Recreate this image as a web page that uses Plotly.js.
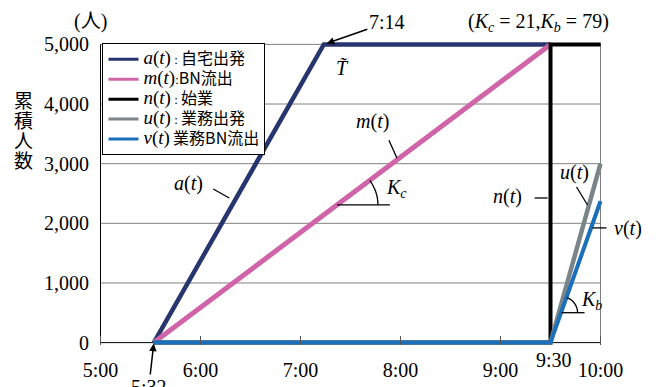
<!DOCTYPE html>
<html>
<head>
<meta charset="utf-8">
<script src="https://cdn.plot.ly/plotly-3.0.1.min.js"></script>
<style>
html, body { margin: 0; padding: 0; background: #fff; }
#chart { width: 657px; height: 387px; }
</style>
</head>
<body>
<div id="chart"></div>
<script>
// axis ticks
var xTickText = ["5:00", "6:00", "7:00", "8:00", "9:00", "10:00"];
var yTickVals = [0, 1000, 2000, 3000, 4000, 5000];
var yTickText = ["0", "1,000", "2,000", "3,000", "4,000", "5,000"];

// cumulative number of people over time
var aTime = ["5:32", "7:14", "9:30"];
var aCount = [0, 5000, 5000];
var mTime = ["5:32", "9:30"];
var mCount = [0, 5000];
var nTime = ["5:32", "9:30", "9:30", "10:00"];
var nCount = [0, 0, 5000, 5000];
var uTime = ["5:32", "9:30", "10:00"];
var uCount = [0, 0, 3000];
var vTime = ["5:32", "9:30", "10:00"];
var vCount = [0, 0, 2370];

function hours(s) {
  var p = s.split(":");
  return +p[0] + p[1] / 60;
}

var serif = "Liberation Serif, Noto Sans CJK JP, serif";
var cjk = "Noto Sans CJK JP, Liberation Serif, sans-serif";

// plot box (px) used for placing the hand drawn labels
var ML = 97.5, MB = 41.6, PW = 506, PH = 303.8, H = 387;
function fx(px) { return (px - ML) / PW; }
function fy(py) { return (H - MB - py) / PH; }

function fn(v) { return "<span style='font-size:19px'><i>" + v + "</i>(<i>t</i>)</span>"; }
function jp(s) { return "<span style='font-size:16px;font-family:Noto Sans CJK JP'>" + s + "</span>"; }

var colors = ["#27356f", "#d064a9", "#000000", "#7b8488", "#1a70ba"];
var widths = [4.5, 5, 4, 4.5, 4];
var series = [
  [aTime, aCount, fn("a") + " : " + jp("自宅出発")],
  [mTime, mCount, fn("m") + ":" + jp("BN流出")],
  [nTime, nCount, fn("n") + " : " + jp("始業")],
  [uTime, uCount, fn("u") + " : " + jp("業務出発")],
  [vTime, vCount, fn("v") + " " + jp("業務BN流出")]
];

var data = [];
// thin copies underneath carry the legend entries
series.forEach(function (s, i) {
  data.push({
    x: s[0].map(hours), y: s[1], name: s[2], type: "scatter", mode: "lines",
    line: { color: colors[i], width: 3 }, showlegend: true
  });
});
series.forEach(function (s, i) {
  data.push({
    x: s[0].map(hours), y: s[1], name: s[2], type: "scatter", mode: "lines",
    line: { color: colors[i], width: widths[i] }, showlegend: false
  });
});

function label(px, py, text, size, font) {
  return {
    xref: "paper", yref: "paper", x: fx(px), y: fy(py),
    xanchor: "center", yanchor: "middle",
    text: text, showarrow: false,
    font: { family: font || serif, size: size || 20, color: "#000" }
  };
}

var annotations = [
  label(90, 21.5, "(人)"),
  label(23, 99.5, "累", 19, cjk),
  label(23, 119.5, "積", 19, cjk),
  label(23, 139.5, "人", 19, cjk),
  label(23, 159.5, "数", 19, cjk),
  label(539, 22, "(<i>K</i><sub><i>c</i></sub> = 21,<i>K</i><sub><i>b</i></sub> = 79)"),
  label(342, 68, "<i>T̃</i>"),
  label(373, 121, "<i>m</i>(<i>t</i>)"),
  label(188, 183, "<i>a</i>(<i>t</i>)"),
  label(508, 197, "<i>n</i>(<i>t</i>)"),
  label(575, 172, "<i>u</i>(<i>t</i>)"),
  label(629, 229, "<i>v</i>(<i>t</i>)"),
  label(397, 188, "<i>K</i><sub><i>c</i></sub>"),
  label(592, 301, "<i>K</i><sub><i>b</i></sub>"),
  label(554, 360, "9:30"),
  {
    x: hours("7:14"), y: 5000, xref: "x", yref: "y",
    text: "7:14", showarrow: true, ax: 63, ay: -22,
    xanchor: "center", yanchor: "middle",
    arrowhead: 2, arrowsize: 1, arrowwidth: 1.5, arrowcolor: "#000", standoff: 3,
    font: { family: serif, size: 20, color: "#000" }
  },
  {
    x: hours("5:32"), y: 0, xref: "x", yref: "y",
    text: "5:32", showarrow: true, ax: -5, ay: 48,
    xanchor: "center", yanchor: "middle",
    arrowhead: 2, arrowsize: 1, arrowwidth: 1.5, arrowcolor: "#000", standoff: 1,
    font: { family: serif, size: 20, color: "#000" }
  }
];

function seg(x0, y0, x1, y1) {
  return {
    type: "line", xref: "paper", yref: "paper",
    x0: fx(x0), y0: fy(y0), x1: fx(x1), y1: fy(y1),
    line: { color: "#000", width: 1.3 }, layer: "above"
  };
}

function arc(cx, cy, r, a0, a1) {
  var d = "";
  for (var i = 0; i <= 12; i++) {
    var t = (a0 + (a1 - a0) * i / 12) * Math.PI / 180;
    d += (i ? " L" : "M") + fx(cx + r * Math.cos(t)) + "," + fy(cy - r * Math.sin(t));
  }
  return {
    type: "path", xref: "paper", yref: "paper", path: d,
    line: { color: "#000", width: 1.3 }, layer: "above"
  };
}

var shapes = [];
// horizontal grid, kept inside 5:00-10:00
yTickVals.forEach(function (v) {
  shapes.push({
    type: "line", xref: "x", yref: "y", x0: 5, x1: 10, y0: v, y1: v,
    line: { color: v === 0 ? "#000" : "#808080", width: 1 }, layer: "between"
  });
});
shapes.push(
  { type: "line", xref: "x", yref: "y", x0: 5, x1: 5, y0: 0, y1: 5000,
    line: { color: "#000", width: 1 }, layer: "between" },
  { type: "line", xref: "x", yref: "y", x0: 10, x1: 10, y0: 0, y1: 5000,
    line: { color: "#808080", width: 1 }, layer: "between" },
  // leader lines
  seg(213, 189, 229, 198),
  seg(389, 140, 397, 158),
  seg(535, 198, 548, 198),
  seg(577, 187, 588, 205),
  seg(593, 228, 607, 228),
  seg(337, 205, 390, 205),
  seg(562, 313, 585, 313),
  arc(337, 205, 41, 37, 0),
  arc(562, 313, 16, 70, 0)
);

var layout = {
  width: 657,
  height: 387,
  margin: { l: ML, r: 657 - ML - PW, t: H - MB - PH, b: MB },
  paper_bgcolor: "#fff",
  plot_bgcolor: "#fff",
  font: { family: serif, size: 20, color: "#000" },
  showlegend: true,
  legend: {
    x: fx(102), y: fy(43), xanchor: "left", yanchor: "top",
    bgcolor: "#fff", bordercolor: "#000", borderwidth: 1,
    font: { family: serif, size: 13, color: "#000" },
    tracegroupgap: 0
  },
  xaxis: {
    range: [4.975, 10.025],
    tickvals: xTickText.map(hours),
    ticktext: xTickText,
    ticks: "inside", ticklen: 9, tickcolor: "#555", layer: "above traces",
    showgrid: false, zeroline: false, showline: false,
    ticklabelstandoff: 11,
    tickfont: { family: serif, size: 20 }
  },
  yaxis: {
    range: [-40, 5040],
    tickvals: yTickVals,
    ticktext: yTickText,
    ticks: "",
    showgrid: false, zeroline: false, showline: false,
    ticklabelstandoff: 8,
    tickfont: { family: serif, size: 20 }
  },
  annotations: annotations,
  shapes: shapes
};

Plotly.newPlot("chart", data, layout, { displayModeBar: false, staticPlot: true });
</script>
</body>
</html>
